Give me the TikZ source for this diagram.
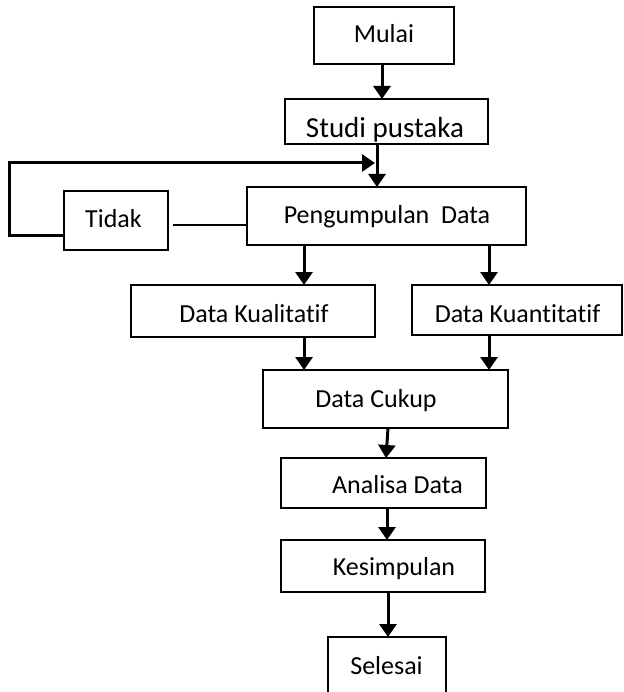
\documentclass[tikz,border=0pt]{standalone}
\usepackage{fontspec}
\setmainfont{Carlito}[Ligatures=NoCommon]
\usetikzlibrary{arrows.meta}
\begin{document}
\begin{tikzpicture}[x=1pt,y=-1pt,
  box/.style={draw, line width=2.1pt, inner sep=0pt, outer sep=0pt},
  lbl/.style={inner sep=0pt, anchor=base, font=\fontsize{26}{30}\selectfont},
  arr/.style={line width=3pt, -{Triangle[length=13pt,width=17pt]}},
  thin/.style={line width=1.4pt},
  loopline/.style={line width=3pt, -{Triangle[length=13pt,width=17pt]}}]
\clip (0,0) rectangle (623,692);
\useasboundingbox (0,0) rectangle (623,692);
% boxes
\node[box, minimum width=140, minimum height=57] (mulai) at (384,35.5) {};
\node[box, minimum width=203, minimum height=45] (studi) at (386.5,121.5) {};
\node[box, minimum width=104, minimum height=59] (tidak) at (116,220.5) {};
\node[box, minimum width=279, minimum height=58] (peng) at (386.5,216) {};
\node[box, minimum width=244, minimum height=52] (kual) at (253,311) {};
\node[box, minimum width=210, minimum height=50] (kuan) at (517,310) {};
\node[box, minimum width=245, minimum height=58] (cukup) at (385.5,399) {};
\node[box, minimum width=205, minimum height=50] (anal) at (383.5,483) {};
\node[box, minimum width=204, minimum height=52] (kesim) at (383,566) {};
\node[box, minimum width=118, minimum height=63] (selesai) at (387,668.5) {};
% labels
\node[lbl] (tmulai) at (384,43) {Mulai};
\node[lbl, font=\fontsize{29}{33}\selectfont] (tstudi) at (385,138) {Studi pustaka};
\node[lbl] (ttidak) at (113.5,228) {Tidak};
\node[lbl] (tpeng) at (387,224) {Pengumpulan\ \ Data};
\node[lbl] (tkual) at (254,322) {Data Kualitatif};
\node[lbl] (tkuan) at (517.5,322) {Data Kuantitatif};
\node[lbl] (tcukup) at (376,407) {Data Cukup};
\node[lbl] (tanal) at (397.5,493) {Analisa Data};
\node[lbl] (tkesim) at (394,575) {Kesimpulan};
\node[lbl] (tsel) at (386.5,674) {Selesai};
% connectors
\draw[arr] (mulai.south -| 382,0) -- (studi.north -| 382,0);
\draw[arr] (studi.south -| 377,0) -- (peng.north -| 377,0);
\coordinate (loopend) at (375,163);
\draw[loopline] (tidak.west |- 0,236) -- (9,236) -- (9,163) -- (loopend);
\coordinate (tstart) at (173,225);
\draw[thin] (tstart) -- (peng.west |- tstart);
\draw[arr] (peng.south -| 304,0) -- (kual.north -| 304,0);
\draw[arr] (peng.south -| 489,0) -- (kuan.north -| 489,0);
\draw[arr] (kual.south -| 304,0) -- (cukup.north -| 304,0);
\draw[arr] (kuan.south -| 489,0) -- (cukup.north -| 489,0);
\draw[arr] (cukup.south -| 388,0) -- (anal.north -| 386,0);
\draw[arr] (anal.south -| 387,0) -- (kesim.north -| 387,0);
\draw[arr] (kesim.south -| 388,0) -- (selesai.north -| 388,0);
\end{tikzpicture}
\end{document}
